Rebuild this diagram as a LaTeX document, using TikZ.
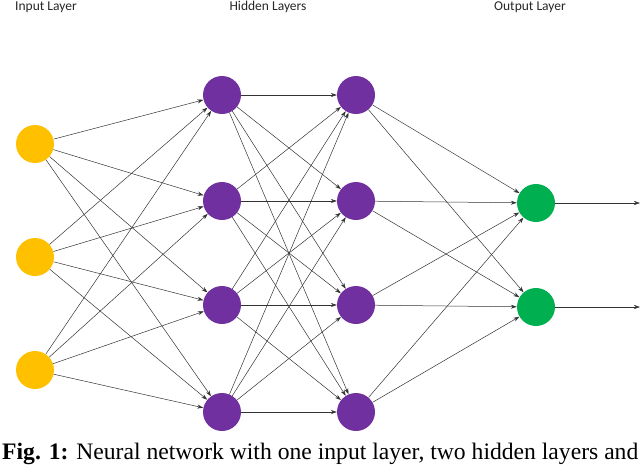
\documentclass[tikz,border=0pt]{standalone}
\usepackage{fontspec}
\setmainfont{Liberation Serif}
\newfontfamily\lab{Carlito}
\usetikzlibrary{arrows.meta}
\definecolor{inc}{HTML}{FFC000}
\definecolor{hic}{HTML}{7030A0}
\definecolor{ouc}{HTML}{00B050}
\begin{document}
\begin{tikzpicture}[x=1pt,y=-1pt,
  neu/.style={circle,minimum size=38pt,inner sep=0pt},
  con/.style={draw=black!80,line width=0.5pt,-{Stealth[length=6pt,width=4pt]}},
  lbl/.style={font=\lab\fontsize{13.5}{15}\selectfont,text=black!85}]
\useasboundingbox (0,0) rectangle (640,464);
\foreach \i/\y in {1/144,2/257,3/370} \node[neu,fill=inc] (i\i) at (35,\y) {};
\foreach \i/\y in {1/95,2/201,3/305,4/412} {
  \node[neu,fill=hic] (a\i) at (222,\y) {};
  \node[neu,fill=hic] (b\i) at (356,\y) {};}
\foreach \i/\y in {1/203,2/307} \node[neu,fill=ouc] (o\i) at (536,\y) {};
\coordinate (e1) at (640,203);
\coordinate (e2) at (640,307);
\foreach \s in {1,2,3} \foreach \t in {1,2,3,4} \draw[con] (i\s) -- (a\t);
\foreach \s in {1,2,3,4} \foreach \t in {1,2,3,4} \draw[con] (a\s) -- (b\t);
\foreach \s in {1,2,3,4} \foreach \t in {1,2} \draw[con] (b\s) -- (o\t);
\foreach \t in {1,2} \draw[con] (o\t) -- (e\t);
\node[lbl] (l1) at (46,7) {Input Layer};
\node[lbl] (l2) at (268,7) {Hidden Layers};
\node[lbl] (l3) at (530,7) {Output Layer};
\node[anchor=base west,inner sep=0pt] (cap) at (2,459) {\resizebox{636pt}{!}{\textbf{Fig. 1:} Neural network with one input layer, two hidden layers and}};
\end{tikzpicture}
\end{document}
